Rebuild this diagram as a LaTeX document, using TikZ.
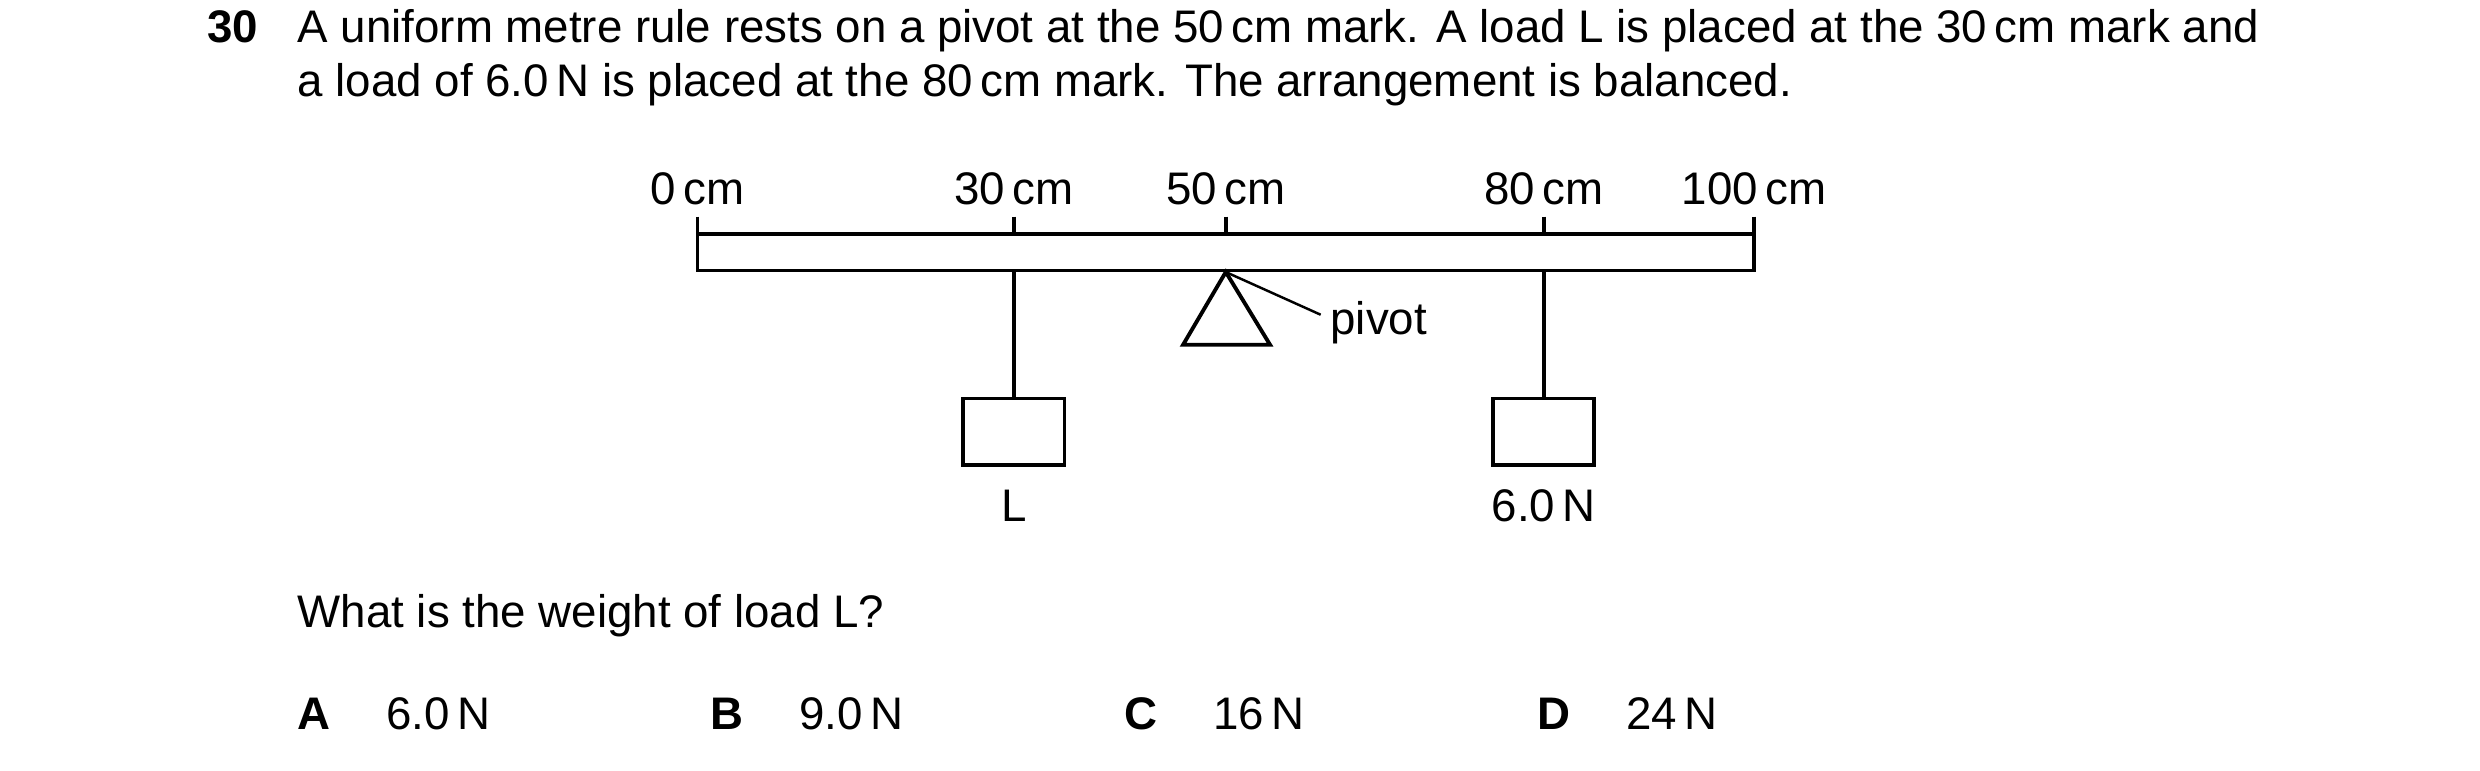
\documentclass[tikz,border=0pt]{standalone}
\usepackage{fontspec}
\setmainfont{Liberation Sans}
\usetikzlibrary{positioning}
\tikzset{
  txt/.style={font=\fontsize{13}{15}\selectfont, inner sep=0pt},
  mass/.style={draw, line width=1.1pt, minimum width=64*0.01582cm, minimum height=42*0.01582cm, inner sep=0pt}
}
\begin{document}
\begin{tikzpicture}[x=0.01582cm, y=-0.01582cm, line width=1.1pt]
  \useasboundingbox (0,0) rectangle (1568,487);
  % question text
  \node[txt, anchor=base west] (num) at (130,27) {\textbf{30}};
  \node[txt, anchor=base west] (line1) at (187,27) {A uniform metre rule rests on a pivot at the 50\,cm mark. A load L is placed at the 30\,cm mark and};
  \node[txt, anchor=base west] (line2) at (187,61) {a load of 6.0\,N is placed at the 80\,cm mark. The arrangement is balanced.};

  % rule with marks
  \draw (441,148) rectangle (1109,171);
  \foreach \x/\t in {441/0, 641/30, 775/50, 976/80, 1109/100} {
    \coordinate (tick\t) at (\x,137);
    \draw (tick\t) -- (\x,148);
    \node[txt, anchor=base] (lab\t) at (\x,129) {\t\,cm};
  }

  % loads
  \coordinate (hangL) at (641,171);
  \coordinate (hangR) at (976,171);
  \node[mass] (boxL) at (641,273) {};
  \node[mass] (boxR) at (976,273) {};
  \draw (hangL) -- (boxL.north);
  \draw (hangR) -- (boxR.north);
  \node[txt, anchor=base] (nameL) at (641,330) {L};
  \node[txt, anchor=base] (nameR) at (976,330) {6.0\,N};

  % pivot
  \coordinate (apex) at (775,172);
  \draw (apex) -- (803,218) -- (748,218) -- cycle;
  \node[txt, anchor=west] (piv) at (840,204) {pivot};
  \draw[line width=0.7pt] (apex) -- (835,199);

  % question and options
  \node[txt, anchor=base west] (ask) at (187,397) {What is the weight of load L?};
  \foreach \x/\k/\v in {187/A/6.0\,N, 448/B/9.0\,N, 710/C/16\,N, 971/D/24\,N} {
    \node[txt, anchor=base west] (opt\k) at (\x,461) {\textbf{\k}};
    \node[txt, anchor=base west] (val\k) at (\x+56,461) {\v};
  }
\end{tikzpicture}
\end{document}
